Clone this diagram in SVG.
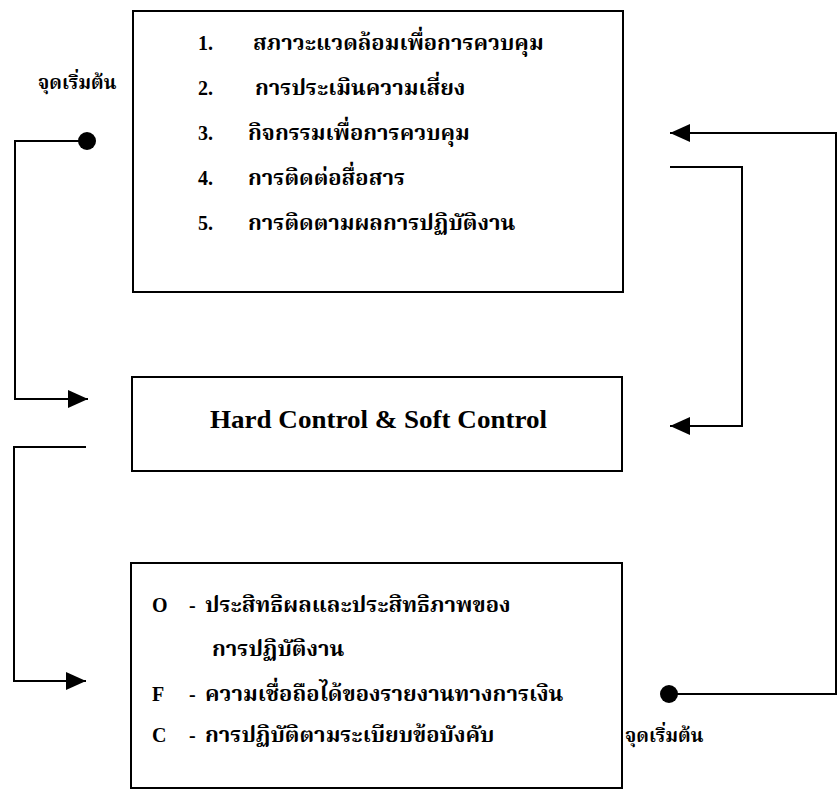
<svg xmlns="http://www.w3.org/2000/svg" width="840" height="790" viewBox="0 0 840 790">
<style>
.box{fill:#fff;stroke:#000;stroke-width:2}
.conn{fill:none;stroke:#000;stroke-width:2}
.th{font-family:"Liberation Serif","Noto Serif Thai","Noto Sans Thai","Norasi","Loma","Garuda",serif;font-weight:bold;font-size:22px;fill:#000}
.num{font-family:"Liberation Serif",serif;font-weight:bold;font-size:20px;fill:#000}
.lbl{font-family:"Liberation Serif","Noto Serif Thai","Noto Sans Thai","Norasi","Loma","Garuda",serif;font-weight:bold;font-size:19px;fill:#000}
.en{font-family:"Liberation Serif",serif;font-weight:bold;font-size:25px;fill:#000}
</style>
<defs>
<marker id="arr" viewBox="0 0 20 18" refX="20" refY="9" markerWidth="20" markerHeight="18" orient="auto" markerUnits="userSpaceOnUse">
<path d="M0,0 L20,9 L0,18 z" fill="#000"/>
</marker>
</defs>
<rect width="840" height="790" fill="#fff"/>
<g id="components">
<rect class="box" x="133" y="11" width="490" height="281"/>
<text class="num" x="198" y="50">1.</text><text class="th" x="253" y="50">สภาวะแวดล้อมเพื่อการควบคุม</text>
<text class="num" x="198" y="95">2.</text><text class="th" x="255" y="95">การประเมินความเสี่ยง</text>
<text class="num" x="198" y="140">3.</text><text class="th" x="248" y="140">กิจกรรมเพื่อการควบคุม</text>
<text class="num" x="198" y="185">4.</text><text class="th" x="248" y="185">การติดต่อสื่อสาร</text>
<text class="num" x="198" y="230">5.</text><text class="th" x="248" y="230">การติดตามผลการปฏิบัติงาน</text>
</g>
<g id="controls">
<rect class="box" x="132" y="377" width="490" height="94"/>
<text class="en" x="210" y="428" textLength="337" lengthAdjust="spacingAndGlyphs">Hard Control &amp; Soft Control</text>
</g>
<g id="objectives">
<rect class="box" x="131" y="563" width="491" height="225"/>
<text class="num" x="152" y="612">O</text><text class="num" x="189" y="612">-</text><text class="th" x="205" y="612">ประสิทธิผลและประสิทธิภาพของ</text>
<text class="th" x="212" y="656">การปฏิบัติงาน</text>
<text class="num" x="152" y="701">F</text><text class="num" x="189" y="701">-</text><text class="th" x="205" y="701">ความเชื่อถือได้ของรายงานทางการเงิน</text>
<text class="num" x="152" y="742">C</text><text class="num" x="189" y="742">-</text><text class="th" x="205" y="742">การปฏิบัติตามระเบียบข้อบังคับ</text>
</g>
<g id="start-top">
<text class="lbl" x="38" y="89">จุดเริ่มต้น</text>
<circle cx="87" cy="141" r="9" fill="#000"/>
</g>
<g id="start-bottom">
<text class="lbl" x="625" y="742">จุดเริ่มต้น</text>
<circle cx="669" cy="694" r="9" fill="#000"/>
</g>
<g id="connectors">
<path class="conn" d="M87,141 H15 V399 H88" marker-end="url(#arr)"/>
<path class="conn" d="M86,447 H14 V681 H86" marker-end="url(#arr)"/>
<path class="conn" d="M669,694 H836 V133 H670" marker-end="url(#arr)"/>
<path class="conn" d="M670,167 H742 V426 H670" marker-end="url(#arr)"/>
</g>
</svg>
